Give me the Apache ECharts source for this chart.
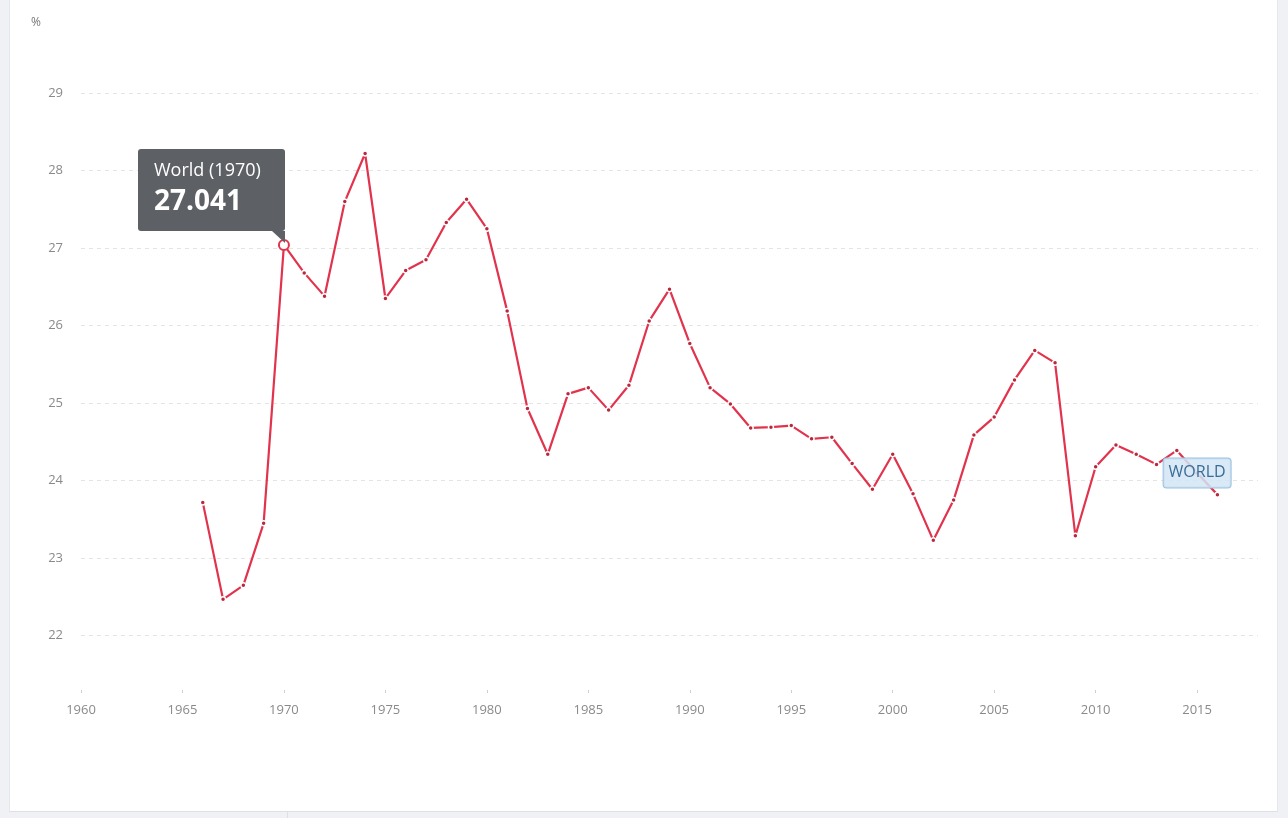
<!DOCTYPE html>
<html>
<head>
<meta charset="utf-8">
<title>World - %</title>
<script src="https://cdn.jsdelivr.net/npm/echarts@6/dist/echarts.min.js"></script>
<style>
    html, body {
        margin: 0;
        padding: 0;
        width: 1288px;
        height: 818px;
        background: #eff1f4;
        overflow: hidden;
        font-family: 'Open Sans', sans-serif;
    }
    .panel {
        position: absolute;
        left: 9px;
        top: 0;
        width: 1267px;
        height: 811px;
        background: #fff;
        border-left: 1px solid #e4e7eb;
        border-right: 1px solid #e4e7eb;
        border-bottom: 1px solid #dde0e4;
    }
    .divider {
        position: absolute;
        left: 287px;
        top: 812px;
        width: 1px;
        height: 6px;
        background: #dde0e4;
    }
    #chart {
        position: absolute;
        left: 0;
        top: 0;
        width: 1288px;
        height: 818px;
    }
</style>
</head>
<body>
<div class="panel"></div>
<div class="divider"></div>
<div id="chart"></div>
<script>
// Data
const years = [1966, 1967, 1968, 1969, 1970, 1971, 1972, 1973, 1974, 1975,
    1976, 1977, 1978, 1979, 1980, 1981, 1982, 1983, 1984, 1985,
    1986, 1987, 1988, 1989, 1990, 1991, 1992, 1993, 1994, 1995,
    1996, 1997, 1998, 1999, 2000, 2001, 2002, 2003, 2004, 2005,
    2006, 2007, 2008, 2009, 2010, 2011, 2012, 2013, 2014, 2015, 2016];
const worldValues = [23.72, 22.47, 22.65, 23.45, 27.041, 26.68, 26.38, 27.60, 28.22, 26.35,
    26.71, 26.85, 27.33, 27.63, 27.25, 26.19, 24.93, 24.34, 25.12, 25.20,
    24.91, 25.23, 26.06, 26.47, 25.77, 25.20, 24.99, 24.68, 24.69, 24.71,
    24.54, 24.56, 24.22, 23.89, 24.34, 23.83, 23.23, 23.75, 24.59, 24.82,
    25.30, 25.68, 25.52, 23.29, 24.18, 24.46, 24.34, 24.21, 24.39, 24.10, 23.82];
const xTicks = [1960, 1965, 1970, 1975, 1980, 1985, 1990, 1995, 2000, 2005, 2010, 2015];
const yTicks = [22, 23, 24, 25, 26, 27, 28, 29];
const seriesName = 'World';
const tipYear = 1970;
const labelYear = 2015;

const lineColor = '#e2334d';
const axisText = '#8a8a8a';

// Build series points, with the hovered year and the label year styled apart
const points = years.map(function(year, i) {
    const item = { value: [year, worldValues[i]] };
    if (year === tipYear) {
        item.symbolSize = 10;
        item.itemStyle = { color: '#fff', borderColor: lineColor, borderWidth: 2 };
    }
    if (year === labelYear) {
        item.label = {
            show: true,
            position: 'inside',
            formatter: 'WORLD',
            color: '#3b6c96',
            fontSize: 16,
            fontFamily: 'Open Sans',
            backgroundColor: 'rgba(210, 229, 245, 0.85)',
            borderColor: '#9cc2df',
            borderWidth: 1,
            borderRadius: 3,
            padding: [7, 5, 6, 5]
        };
    }
    return item;
});

const chart = echarts.init(document.getElementById('chart'));
const option = {
    backgroundColor: 'transparent',
    animation: false,
    title: {
        text: '%',
        left: 26,
        top: 12,
        textStyle: { color: '#777', fontSize: 12, fontWeight: 'normal', fontFamily: 'Open Sans' }
    },
    grid: {
        left: 81,
        right: 30,
        top: 31,
        bottom: 128
    },
    tooltip: {
        trigger: 'item',
        triggerOn: 'none',
        alwaysShowContent: true,
        backgroundColor: '#5d6064',
        borderWidth: 0,
        borderRadius: 3,
        padding: 0,
        extraCssText: 'box-shadow:none;',
        position: function(point, params, dom, rect, size) {
            return [point[0] - size.contentSize[0] + 1, point[1] - size.contentSize[1] - 14];
        },
        formatter: function(p) {
            return '<div style="position:relative;width:147px;height:82px;box-sizing:border-box;padding:8px 10px 0 16px;color:#fff;font-family:Open Sans,sans-serif;white-space:nowrap;">' +
                '<div style="font-size:18px;line-height:25px;">' + p.seriesName + ' (' + p.value[0] + ')</div>' +
                '<div style="font-size:28px;line-height:35px;font-weight:bold;">' + p.value[1].toFixed(3) + '</div>' +
                '<div style="position:absolute;right:0;bottom:-12px;width:0;height:0;border-left:13px solid transparent;border-top:12px solid #5d6064;"></div>' +
                '</div>';
        }
    },
    xAxis: {
        type: 'value',
        min: 1960,
        max: 2018,
        axisLine: { show: false },
        axisTick: {
            show: true,
            length: 3,
            customValues: xTicks,
            lineStyle: { color: '#cfcfcf' }
        },
        axisLabel: {
            customValues: xTicks,
            formatter: function(v) { return String(v); },
            color: axisText,
            fontSize: 13,
            fontFamily: 'Open Sans',
            margin: 14
        },
        splitLine: { show: false }
    },
    yAxis: {
        type: 'value',
        min: 21.3,
        max: 29.8,
        axisLine: { show: false },
        axisTick: { show: false, customValues: yTicks },
        axisLabel: {
            customValues: yTicks,
            color: axisText,
            fontSize: 13,
            fontFamily: 'Open Sans',
            margin: 18
        },
        splitLine: {
            show: true,
            lineStyle: { color: '#e4e4e4', type: [4, 4], width: 1 }
        }
    },
    series: [{
        name: seriesName,
        type: 'line',
        data: points,
        showAllSymbol: true,
        symbol: 'circle',
        symbolSize: 5,
        lineStyle: { color: lineColor, width: 2.2 },
        itemStyle: { color: '#b8283d', borderColor: '#fff', borderWidth: 1.5 },
        emphasis: { disabled: true }
    }]
};
chart.setOption(option);

// Show the fixed tooltip on the highlighted year
chart.dispatchAction({
    type: 'showTip',
    seriesIndex: 0,
    dataIndex: years.indexOf(tipYear)
});
</script>
</body>
</html>
